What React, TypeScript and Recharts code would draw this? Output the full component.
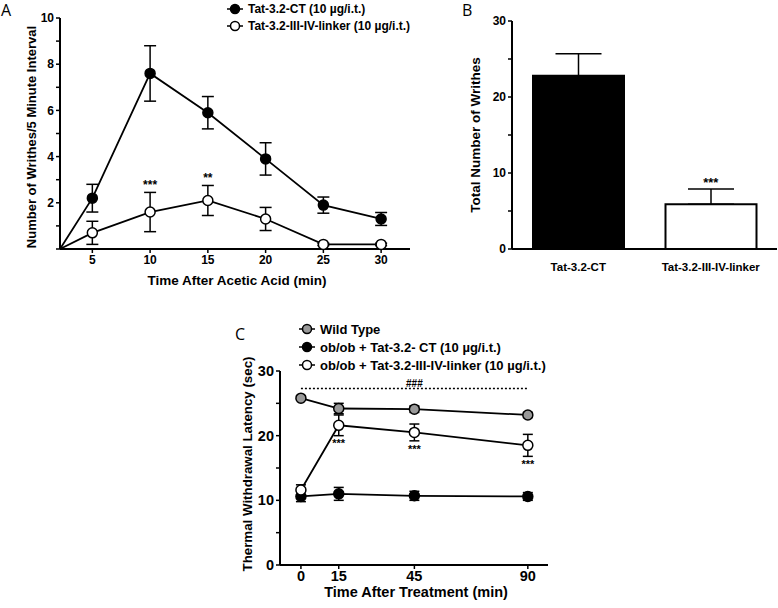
import {
  LineChart,
  Line,
  XAxis,
  YAxis,
  ErrorBar,
  LabelList,
  ComposedChart,
  Bar,
  Cell,
  ReferenceLine,
} from "recharts"

const FONT = "'Liberation Sans', Arial, sans-serif"

// Panel A: writhes per 5-min interval
const X_MIN_A = 2.2
const TIME_A = [5, 10, 15, 20, 25, 30]
const CT_A = [2.2, 7.6, 5.9, 3.9, 1.9, 1.3]
const CT_A_ERR = [0.6, 1.2, 0.7, 0.7, 0.35, 0.28]
const LINKER_A = [0.7, 1.6, 2.1, 1.3, 0.2, 0.2]
const LINKER_A_ERR = [0.5, 0.85, 0.65, 0.5, 0.05, 0.05]
const SIG_A = ["", "***", "**", "", "", ""]
const Y_TICKS_A = [0, 1, 2, 3, 4, 5, 6, 7, 8, 9, 10]

// Panel B: total writhes
const GROUPS_B = ["Tat-3.2-CT", "Tat-3.2-III-IV-linker"]
const TOTAL_B = [22.8, 5.9]
const TOTAL_B_ERR = [2.9, 2.0]
const SIG_B = ["", "***"]
const FILL_B = ["#000", "#fff"]
const Y_TICKS_B = [0, 5, 10, 15, 20, 25, 30]

// Panel C: thermal withdrawal latency
const TIME_C = [0, 15, 45, 90]
const WT_C = [25.8, 24.2, 24.1, 23.2]
const WT_C_ERR = [0.3, 0.8, 0.5, 0.4]
const CT_C = [10.6, 11.0, 10.7, 10.6]
const CT_C_ERR = [0.8, 1.0, 0.7, 0.6]
const LINKER_C = [11.6, 21.6, 20.5, 18.5]
const LINKER_C_ERR = [0.8, 1.6, 1.3, 1.7]
const SIG_C = ["", "***", "***", "***"]
const SIG_LINE_C = 27.3
const Y_TICKS_C = [0, 5, 10, 15, 20, 25, 30]

const rowsA = [
  { time: X_MIN_A, ct: 0, ctErr: 0, linker: 0, linkerErr: 0, sigY: 0, sig: "" },
  ...TIME_A.map((t, i) => ({
    time: t,
    ct: CT_A[i],
    ctErr: CT_A_ERR[i],
    linker: LINKER_A[i],
    linkerErr: LINKER_A_ERR[i],
    sigY: LINKER_A[i] + LINKER_A_ERR[i],
    sig: SIG_A[i],
  })),
]

const rowsB = GROUPS_B.map((g, i) => ({
  name: g,
  total: TOTAL_B[i],
  err: [0, TOTAL_B_ERR[i]],
  sigY: TOTAL_B[i] + TOTAL_B_ERR[i],
  sig: SIG_B[i],
}))

const rowsC = TIME_C.map((t, i) => ({
  time: t,
  wt: WT_C[i],
  wtErr: WT_C_ERR[i],
  ct: CT_C[i],
  ctErr: CT_C_ERR[i],
  linker: LINKER_C[i],
  linkerErr: LINKER_C_ERR[i],
  sigY: LINKER_C[i] - LINKER_C_ERR[i],
  sig: SIG_C[i],
}))

const axisLine = { stroke: "#000", strokeWidth: 2 }
const tickLine = { stroke: "#000", strokeWidth: 1.5 }

// the origin row in A only anchors the line, it gets no marker
const makeDot = (fill: string, r = 5) => (p: any) => {
  if (p.payload.time < TIME_A[0] && p.payload.time !== 0) return <g key={p.index} />
  return <circle key={p.index} cx={p.cx} cy={p.cy} r={r} fill={fill} stroke="#000" strokeWidth={1.5} />
}

function LegendRow({ fill, label, size }: { fill: string; label: string; size: number }) {
  return (
    <div style={{ display: "flex", alignItems: "center", height: size + 5 }}>
      <svg width={16} height={12} style={{ marginRight: 5 }}>
        <line x1={0} y1={6} x2={16} y2={6} stroke="#000" strokeWidth={1.5} />
        <circle cx={8} cy={6} r={4.5} fill={fill} stroke="#000" strokeWidth={1.5} />
      </svg>
      <span style={{ fontSize: size, fontWeight: "bold", whiteSpace: "nowrap" }}>{label}</span>
    </div>
  )
}

function Title({ x, y, text, size, rotate }: { x: number; y: number; text: string; size: number; rotate?: boolean }) {
  return (
    <div
      style={{
        position: "absolute",
        left: x,
        top: y,
        transform: `translate(-50%, -50%)${rotate ? " rotate(-90deg)" : ""}`,
        fontSize: size,
        fontWeight: "bold",
        whiteSpace: "nowrap",
      }}
    >
      {text}
    </div>
  )
}

function PanelLetter({ x, y, text }: { x: number; y: number; text: string }) {
  return (
    <div style={{ position: "absolute", left: x, top: y, fontSize: 16, fontFamily: "'Open Sans', sans-serif", lineHeight: 1 }}>
      {text}
    </div>
  )
}

export default function App() {
  return (
    <div
      style={{
        position: "absolute",
        left: 0,
        top: 0,
        width: 778,
        height: 608,
        background: "#fff",
        fontFamily: FONT,
        color: "#000",
        overflow: "hidden",
      }}
    >
      {/* A */}
      <PanelLetter x={1} y={2} text="A" />
      <div style={{ position: "absolute", left: 0, top: 0 }}>
        <LineChart width={430} height={290} data={rowsA} margin={{ top: 18, right: 20, left: 0, bottom: 0 }}>
          <XAxis
            dataKey="time"
            type="number"
            domain={[X_MIN_A, 32.5]}
            ticks={TIME_A}
            axisLine={axisLine}
            tickLine={tickLine}
            tickSize={4}
            height={41}
            tick={{ fill: "#000", fontSize: 12, fontWeight: "bold" }}
          />
          <YAxis
            type="number"
            domain={[0, 10]}
            ticks={Y_TICKS_A}
            tickFormatter={(v) => (v % 2 === 0 && v !== 0 ? String(v) : "")}
            axisLine={axisLine}
            tickLine={tickLine}
            tickSize={4}
            width={60}
            tick={{ fill: "#000", fontSize: 12, fontWeight: "bold" }}
          />
          <Line dataKey="ct" stroke="#000" strokeWidth={1.8} dot={makeDot("#000")} isAnimationActive={false}>
            <ErrorBar dataKey="ctErr" width={6} stroke="#000" strokeWidth={1.5} direction="y" />
          </Line>
          <Line dataKey="linker" stroke="#000" strokeWidth={1.8} dot={makeDot("#fff")} isAnimationActive={false}>
            <ErrorBar dataKey="linkerErr" width={6} stroke="#000" strokeWidth={1.5} direction="y" />
          </Line>
          <Line dataKey="sigY" stroke="none" dot={false} activeDot={false} isAnimationActive={false}>
            <LabelList dataKey="sig" position="top" offset={3} fill="#000" stroke="none" fontSize={12} fontWeight="bold" />
          </Line>
        </LineChart>
      </div>
      <div style={{ position: "absolute", left: 227, top: 0 }}>
        <LegendRow fill="#000" label="Tat-3.2-CT (10 µg/i.t.)" size={12} />
        <LegendRow fill="#fff" label="Tat-3.2-III-IV-linker (10 µg/i.t.)" size={12} />
      </div>
      <Title x={31} y={137} text="Number of Writhes/5 Minute Interval" size={13} rotate />
      <Title x={237} y={280} text="Time After Acetic Acid (min)" size={13.5} />

      {/* B */}
      <PanelLetter x={462} y={2} text="B" />
      <div style={{ position: "absolute", left: 440, top: 0 }}>
        <ComposedChart width={338} height={290} data={rowsB} margin={{ top: 21, right: 1, left: 0, bottom: 0 }}>
          <XAxis
            dataKey="name"
            axisLine={axisLine}
            tickLine={false}
            height={41}
            tickMargin={8}
            tick={{ fill: "#000", fontSize: 11.5, fontWeight: "bold" }}
          />
          <YAxis
            type="number"
            domain={[0, 30]}
            ticks={Y_TICKS_B}
            tickFormatter={(v) => (v % 10 === 0 ? String(v) : "")}
            axisLine={axisLine}
            tickLine={tickLine}
            tickSize={4}
            width={72}
            tick={{ fill: "#000", fontSize: 12, fontWeight: "bold" }}
          />
          <Bar dataKey="total" barSize={91} stroke="#000" strokeWidth={2} isAnimationActive={false}>
            {rowsB.map((r, i) => (
              <Cell key={r.name} fill={FILL_B[i]} />
            ))}
            <ErrorBar dataKey="err" width={23} stroke="#000" strokeWidth={1.5} direction="y" />
          </Bar>
          <Line dataKey="sigY" stroke="none" dot={false} activeDot={false} isAnimationActive={false}>
            <LabelList dataKey="sig" position="top" offset={2} fill="#000" stroke="none" fontSize={13} fontWeight="bold" />
          </Line>
        </ComposedChart>
      </div>
      <Title x={475} y={135} text="Total Number of Writhes" size={13.5} rotate />

      {/* C */}
      <PanelLetter x={235} y={326} text="C" />
      <div style={{ position: "absolute", left: 200, top: 290 }}>
        <LineChart width={360} height={318} data={rowsC} margin={{ top: 81, right: 12, left: 0, bottom: 0 }}>
          <XAxis
            dataKey="time"
            type="number"
            domain={[-8.3, 98]}
            ticks={TIME_C}
            axisLine={axisLine}
            tickLine={tickLine}
            tickSize={4}
            height={43}
            tick={{ fill: "#000", fontSize: 14.5, fontWeight: "bold" }}
          />
          <YAxis
            type="number"
            domain={[0, 30]}
            ticks={Y_TICKS_C}
            tickFormatter={(v) => (v % 10 === 0 ? String(v) : "")}
            axisLine={axisLine}
            tickLine={tickLine}
            tickSize={4}
            width={80}
            tick={{ fill: "#000", fontSize: 14.5, fontWeight: "bold" }}
          />
          <ReferenceLine
            segment={[
              { x: TIME_C[0], y: SIG_LINE_C },
              { x: TIME_C[TIME_C.length - 1], y: SIG_LINE_C },
            ]}
            stroke="#000"
            strokeWidth={1.5}
            strokeDasharray="2 2"
            label={{ value: "###", position: "top", offset: 1, fill: "#000", fontSize: 10, fontWeight: "bold" }}
          />
          <Line dataKey="ct" stroke="#000" strokeWidth={1.8} dot={makeDot("#000")} isAnimationActive={false}>
            <ErrorBar dataKey="ctErr" width={5} stroke="#000" strokeWidth={1.5} direction="y" />
          </Line>
          <Line dataKey="linker" stroke="#000" strokeWidth={1.8} dot={makeDot("#fff")} isAnimationActive={false}>
            <ErrorBar dataKey="linkerErr" width={5} stroke="#000" strokeWidth={1.5} direction="y" />
          </Line>
          <Line dataKey="wt" stroke="#000" strokeWidth={1.8} dot={makeDot("#999")} isAnimationActive={false}>
            <ErrorBar dataKey="wtErr" width={5} stroke="#000" strokeWidth={1.5} direction="y" />
          </Line>
          <Line dataKey="sigY" stroke="none" dot={false} activeDot={false} isAnimationActive={false}>
            <LabelList dataKey="sig" position="bottom" offset={4} fill="#000" stroke="none" fontSize={11} fontWeight="bold" />
          </Line>
        </LineChart>
      </div>
      <div style={{ position: "absolute", left: 299, top: 320 }}>
        <LegendRow fill="#999" label="Wild Type" size={13} />
        <LegendRow fill="#000" label="ob/ob + Tat-3.2- CT (10 µg/i.t.)" size={13} />
        <LegendRow fill="#fff" label="ob/ob + Tat-3.2-III-IV-linker (10 µg/i.t.)" size={13} />
      </div>
      <Title x={247} y={464} text="Thermal Withdrawal Latency (sec)" size={13.3} rotate />
      <Title x={416} y={592} text="Time After Treatment (min)" size={14.5} />
    </div>
  )
}
